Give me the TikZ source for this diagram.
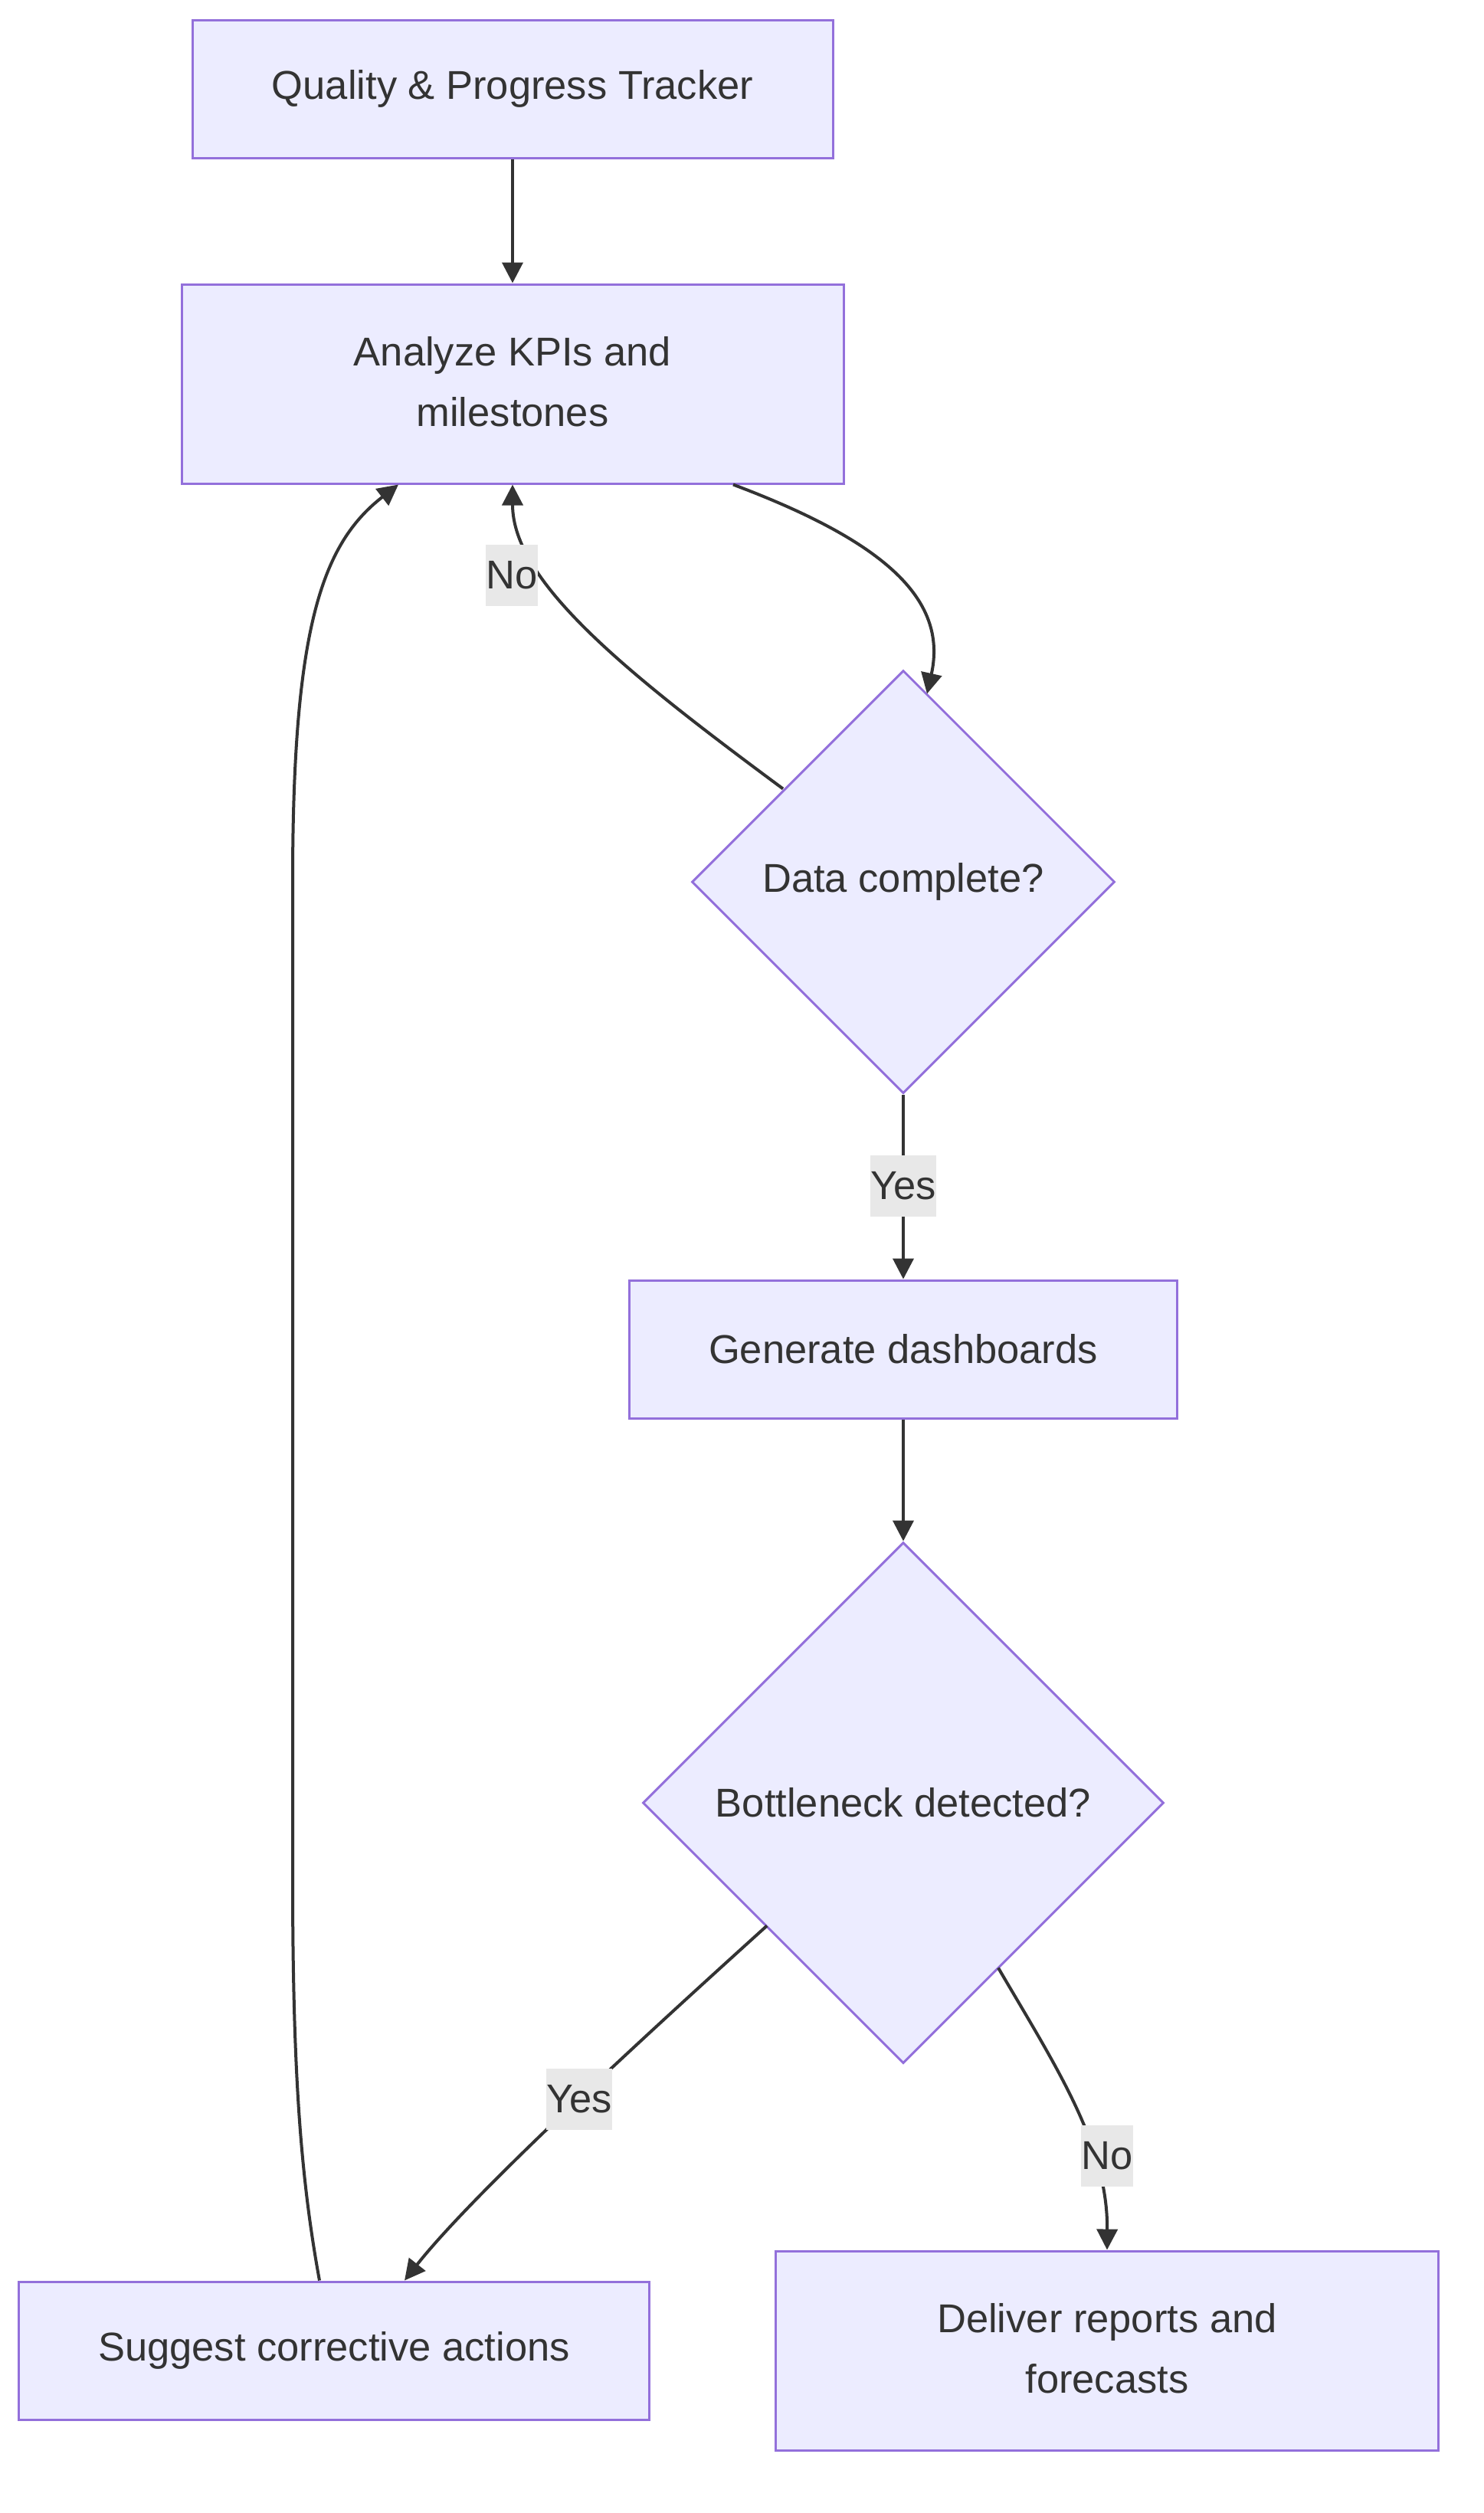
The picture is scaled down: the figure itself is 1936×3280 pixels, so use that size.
\documentclass[tikz,border=0pt]{standalone}
\usepackage{fontspec}
\setmainfont{Liberation Sans}
\usetikzlibrary{shapes.geometric,arrows.meta}
\definecolor{nodefill}{HTML}{ECECFF}
\definecolor{nodeline}{HTML}{9370DB}
\definecolor{ink}{HTML}{333333}
\definecolor{lblbg}{HTML}{E8E8E8}
\tikzset{
  box/.style={draw=nodeline, fill=nodefill, line width=3pt, inner sep=0pt, align=center,
    text=ink, font=\fontsize{52.5}{79}\selectfont},
  decision/.style={box, shape=diamond, aspect=1},
  edge/.style={draw=ink, line width=4pt, -{Triangle[length=27pt,width=27pt]}},
  lbl/.style={fill=lblbg, inner sep=0pt, minimum height=80pt, text=ink,
    font=\fontsize{52.5}{79}\selectfont}
}
\begin{document}
\begin{tikzpicture}[x=1pt,y=-1pt]
\fill[white] (0,0) rectangle (1936,3280);
\useasboundingbox (0,0) rectangle (1936,3280);

\node[box, minimum width=836pt, minimum height=180pt] (A) at (669,116) {Quality \& Progress Tracker};
\node[box, minimum width=864pt, minimum height=260pt] (B) at (669,501) {\raisebox{8pt}{\begin{tabular}{@{}c@{}}Analyze KPIs and\\milestones\end{tabular}}};
\node[decision, minimum width=552pt, minimum height=552pt] (D1) at (1179,1151) {Data complete?};
\node[box, minimum width=715pt, minimum height=180pt] (G) at (1179,1761) {Generate dashboards};
\node[decision, minimum width=680pt, minimum height=680pt] (D2) at (1179,2353) {Bottleneck detected?};
\node[box, minimum width=823pt, minimum height=180pt] (S) at (436,3068) {Suggest corrective actions};
\node[box, minimum width=865pt, minimum height=260pt] (R) at (1445,3068) {\raisebox{8pt}{\begin{tabular}{@{}c@{}}Deliver reports and\\forecasts\end{tabular}}};

% edges
\draw[edge] (A.south) -- (B.north);
\draw[edge] ([xshift=288pt]B.south) .. controls (1150,705) and (1238,780) .. ([xshift=31pt,yshift=-32pt]D1.north);
\draw[edge] ([xshift=-157pt,yshift=-156pt]D1.north) .. controls (820,880) and (669,760) .. (B.south);
\draw[edge] (D1.south) -- (G.north);
\draw[edge] (G.south) -- (D2.north);
\draw[edge] ([xshift=-178pt,yshift=-502pt]D2.north) .. controls (850,2650) and (620,2860) .. ([xshift=92pt]S.north);
\draw[edge] ([xshift=124pt,yshift=-557pt]D2.north) .. controls (1380,2700) and (1446,2800) .. (R.north);
\draw[edge] ([xshift=-19pt]S.north) .. controls (392,2840) and (382,2700) .. (382,2450)
  -- (382,1150) .. controls (382,820) and (420,710) .. ([xshift=-149pt]B.south);

% labels
\node[lbl] (L1) at (668,751) {No};
\node[lbl] (L2) at (1179,1548) {Yes};
\node[lbl] (L3) at (756,2740) {Yes};
\node[lbl] (L4) at (1445,2814) {No};
\end{tikzpicture}
\end{document}
